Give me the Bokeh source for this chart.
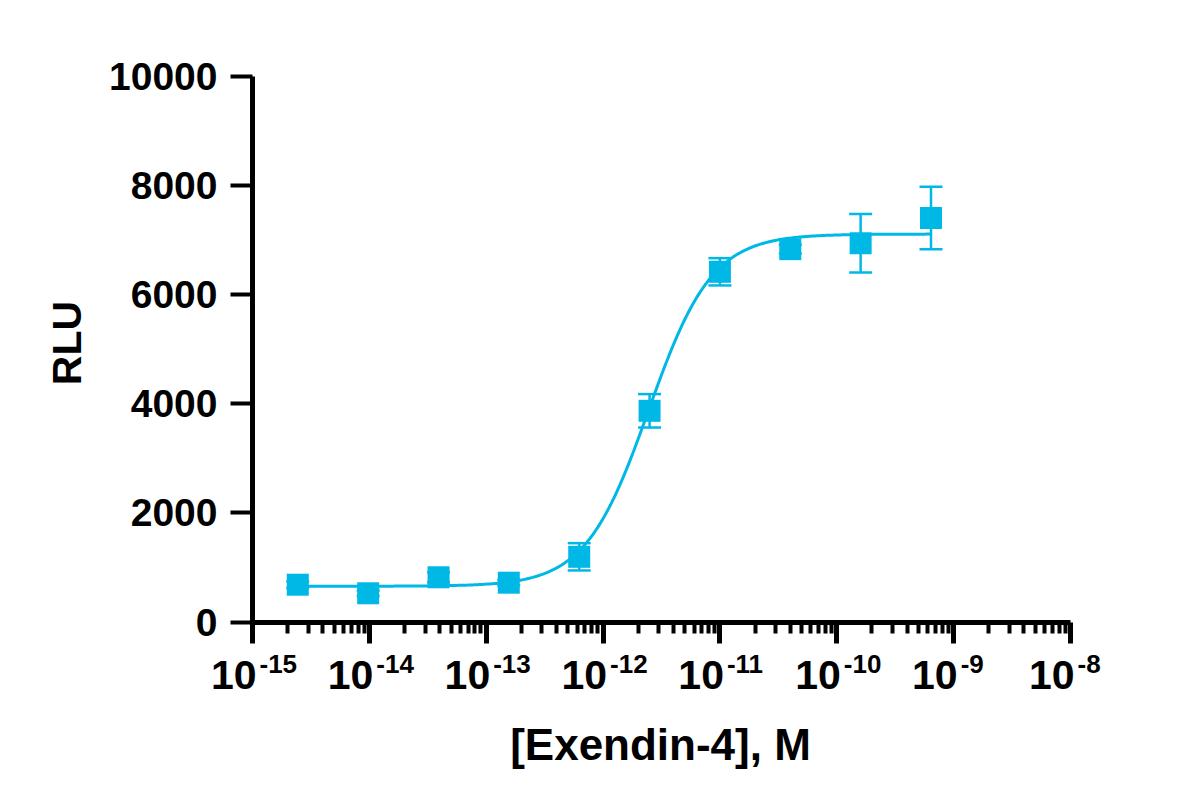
import numpy as np
from bokeh.plotting import figure
from bokeh.models import (ColumnDataSource, Range1d, FixedTicker, Whisker, TeeHead,
                          CustomJSTickFormatter)
from bokeh.core.properties import value
from bokeh.embed import file_html
from bokeh.resources import INLINE

# ---- data ----
conc = [2.44e-15, 9.77e-15, 3.91e-14, 1.56e-13, 6.25e-13, 2.5e-12, 1.0e-11, 4.0e-11, 1.6e-10, 6.4e-10]
rlu_mean = [683, 526, 819, 720, 1194, 3868, 6414, 6828, 6936, 7399]
rlu_sd = [60, 50, 90, 50, 250, 306, 250, 80, 535, 574]

# 4-parameter logistic fit parameters (fitted curve)
fit_bottom = 655
fit_top = 7105
fit_log_ec50 = -11.61
fit_hill = 1.6

x_tick_values = [1e-15, 1e-14, 1e-13, 1e-12, 1e-11, 1e-10, 1e-9, 1e-8]
x_tick_base = ["10"] * 8
x_tick_exponents = ["-15", "-14", "-13", "-12", "-11", "-10", "-9", "-8"]
y_tick_values = [0, 2000, 4000, 6000, 8000, 10000]

x_title = "[Exendin-4], M"
y_title = "RLU"

COLOR = "#00B8E6"
FONT = "Liberation Sans"

# ---- layout: frame covers whole canvas, axes placed at fixed data locations ----
W, H = 1184, 791
X0_PX, X1_PX = 252.0, 1070.0      # pixel of 1e-15 and 1e-8
Y0_PX, Y1_PX = 621.5, 75.5        # pixel of 0 and 10000


def xdata(px):
    return 10 ** (-15 + (px - X0_PX) / (X1_PX - X0_PX) * 7)


def ydata(py):
    return (Y0_PX - py) / (Y0_PX - Y1_PX) * 10000


p = figure(width=W, height=H, x_axis_type="log",
           x_range=Range1d(xdata(0), xdata(W)), y_range=Range1d(ydata(H), ydata(0)),
           output_backend="svg", toolbar_location=None,
           min_border_left=0, min_border_right=0, min_border_top=0, min_border_bottom=0)
p.outline_line_color = None
p.xgrid.grid_line_color = None
p.ygrid.grid_line_color = None
p.background_fill_color = "white"
p.border_fill_color = "white"

minor = [m * t for t in x_tick_values[:-1] for m in range(2, 10)]
xa = p.xaxis[0]
xa.fixed_location = 0
xa.bounds = (x_tick_values[0], x_tick_values[-1])
xa.ticker = FixedTicker(ticks=x_tick_values, minor_ticks=minor)
xa.formatter = CustomJSTickFormatter(code="return ''")
xa.axis_line_width = 5
xa.major_tick_line_width = 5
xa.minor_tick_line_width = 4
xa.major_tick_out = 21
xa.major_tick_in = 0
xa.minor_tick_out = 11
xa.minor_tick_in = 0

ya = p.yaxis[0]
ya.fixed_location = x_tick_values[0]
ya.bounds = (y_tick_values[0], y_tick_values[-1])
ya.ticker = FixedTicker(ticks=y_tick_values, minor_ticks=[])
ya.axis_line_width = 5
ya.major_tick_line_width = 4
ya.major_tick_out = 22
ya.major_tick_in = 0
ya.minor_tick_line_color = None
ya.major_label_standoff = 13
ya.major_label_text_font = FONT
ya.major_label_text_font_style = "bold"
ya.major_label_text_font_size = "39px"
ya.major_label_text_color = "black"

# ---- fitted curve ----
lx = np.linspace(np.log10(conc[0]), np.log10(conc[-1]), 400)
curve_y = fit_bottom + (fit_top - fit_bottom) / (1 + 10 ** ((fit_log_ec50 - lx) * fit_hill))
p.line(10 ** lx, curve_y, line_color=COLOR, line_width=3)

# ---- error bars & points ----
src = ColumnDataSource(dict(
    x=conc, y=rlu_mean,
    upper=[m + s for m, s in zip(rlu_mean, rlu_sd)],
    lower=[m - s for m, s in zip(rlu_mean, rlu_sd)],
))
p.add_layout(Whisker(base="x", upper="upper", lower="lower", source=src,
                     line_color=COLOR, line_width=2.5,
                     upper_head=TeeHead(size=23, line_color=COLOR, line_width=2.5),
                     lower_head=TeeHead(size=23, line_color=COLOR, line_width=2.5)))
p.scatter("x", "y", source=src, marker="square", size=22,
          fill_color=COLOR, line_color=COLOR, line_width=0)

# ---- x tick labels: 10 with superscript exponent ----
tick_src = ColumnDataSource(dict(
    x=x_tick_values, base=x_tick_base, exp=x_tick_exponents,
    yb=[ydata(674)] * len(x_tick_values), ye=[ydata(663)] * len(x_tick_values),
))
p.text(x="x", y="yb", text="base", source=tick_src, x_offset=4,
       text_align="right", text_baseline="alphabetic",
       text_font=value(FONT), text_font_style="bold",
       text_font_size="41px", text_color="black")
p.text(x="x", y="ye", text="exp", source=tick_src, x_offset=7,
       text_align="left", text_baseline="alphabetic",
       text_font=value(FONT), text_font_style="bold",
       text_font_size="26px", text_color="black")

# ---- axis titles ----
p.text(x=[xdata(660)], y=[ydata(744)], text=[x_title],
       text_align="center", text_baseline="alphabetic",
       text_font=value(FONT), text_font_style="bold",
       text_font_size="44px", text_color="black")
p.text(x=[xdata(66)], y=[ydata(342.5)], text=[y_title], angle=np.pi / 2,
       text_align="center", text_baseline="alphabetic",
       text_font=value(FONT), text_font_style="bold",
       text_font_size="41px", text_color="black")

open("out.html", "w").write(file_html(p, INLINE))
